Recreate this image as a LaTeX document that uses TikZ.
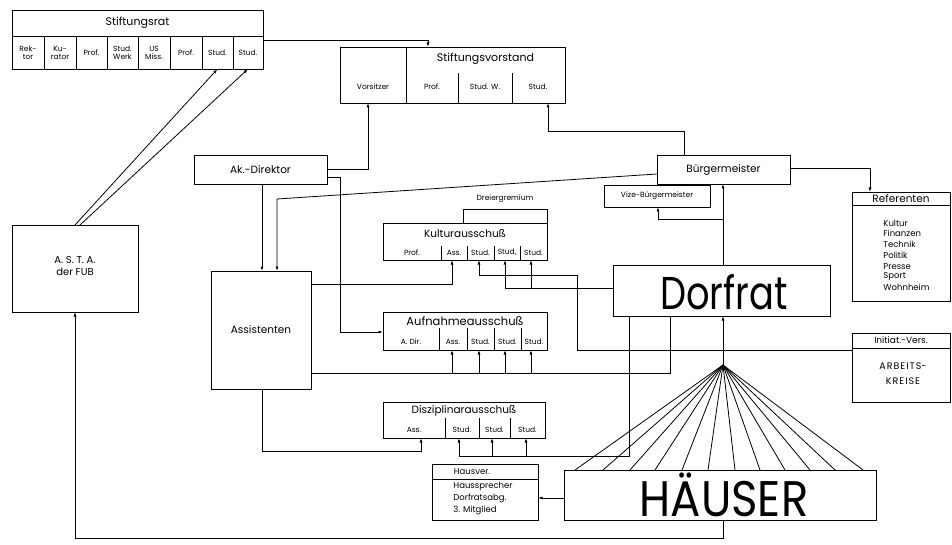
\documentclass[tikz,border=0pt]{standalone}
\usepackage{fontspec}
\usepackage{graphicx}
\setmainfont{Poppins}
\usetikzlibrary{arrows.meta,fit}
\begin{document}
\begin{tikzpicture}[x=1pt,y=-1pt, line width=0.8pt,
  >={Latex[length=4.5pt,width=3pt]},
  box/.style={draw, rectangle, inner sep=0pt, outer sep=0pt},
  tl/.style={inner sep=0pt, font=\fontsize{10.5}{12}\selectfont},
  ts/.style={inner sep=0pt, font=\fontsize{7.5}{8}\selectfont, align=center},
  tm/.style={inner sep=0pt, font=\fontsize{8.5}{10}\selectfont},
  li/.style={inner sep=0pt, anchor=west, font=\fontsize{8.5}{10}\selectfont}]
\useasboundingbox[fill=white] (0,0) rectangle (952,545);

% ---------- Stiftungsrat
\node[box, fit={(12,10) (263,69)}] (rat) {};
\draw (12,36) -- (263,36);
\foreach \x in {44,76,107,138,170,202,233} \draw (\x,36) -- (\x,69);
\node[tl, font=\fontsize{11}{12}\selectfont] (ratT) at (137.5,23) {Stiftungsrat};
\node[ts] (r1) at (28,52.5) {Rek-\\tor};
\node[ts] (r2) at (60,52.5) {Ku-\\rator};
\node[ts] (r3) at (91.5,52.5) {Prof.};
\node[ts] (r4) at (122.5,52.5) {Stud.\\Werk};
\node[ts] (r5) at (154,52.5) {US\\Miss.};
\node[ts] (r6) at (186,52.5) {Prof.};
\node[ts] (r7) at (217.5,52.5) {Stud.};
\node[ts] (r8) at (248,52.5) {Stud.};
\coordinate (r7b) at (217.5,69);
\coordinate (r8b) at (248,69);

% ---------- Stiftungsvorstand
\node[box, fit={(340,47) (565,103)}] (vor) {};
\draw (406,47) -- (406,103);
\draw (458,73) -- (458,103);
\draw (512,73) -- (512,103);
\node[tl, font=\fontsize{11}{12}\selectfont] (vorT) at (485.5,59) {Stiftungsvorstand};
\node[ts] (v1) at (373,87) {Vorsitzer};
\node[ts] (v2) at (432,87) {Prof.};
\node[ts] (v3) at (485,87) {Stud. W.};
\node[ts] (v4) at (538,87) {Stud.};

% ---------- Ak.-Direktor, Bürgermeister, Vize
\node[box, fit={(194,155) (327,184)}] (ak) {};
\node[tl] at (ak.center) {Ak.-Direktor};
\node[box, fit={(657,155) (790,184)}] (bm) {};
\node[tl] at (bm.center) {Bürgermeister};
\node[box, fit={(604,185) (710,207)}] (vize) {};
\node[tm, font=\fontsize{7.5}{8}\selectfont] at (vize.center) {Vize-Bürgermeister};

% ---------- Referenten
\node[box, fit={(852,192) (950,301)}] (ref) {};
\draw (852,205) -- (950,205);
\node[tl] at (901,198.5) {Referenten};
\foreach \t [count=\i from 0] in {Kultur,Finanzen,Technik,Politik,Presse,Sport,Wohnheim}
  \node[li] at (883,223+10.8*\i) {\t};

% ---------- Initiat.-Vers.
\node[box, fit={(852,333) (950,402)}] (ini) {};
\draw (852,348) -- (950,348);
\node[tm, font=\fontsize{9}{10}\selectfont] at (901,340.5) {Initiat.-Vers.};
\node[tm, font=\fontsize{9.5}{15}\selectfont, align=center] at (903,374)
  {A\kern1ptR\kern1ptB\kern1ptE\kern1ptI\kern1ptT\kern1ptS-\\K\kern1ptR\kern1ptE\kern1ptI\kern1ptS\kern1ptE};

% ---------- Dorfrat
\node[box, fit={(613,265) (830,316)}] (dorf) {};
\node[inner sep=0pt] at (724,292) {\fontsize{46}{46}\selectfont\scalebox{0.8}[1]{Dorfrat}};

% ---------- Ausschüsse
\node[box, fit={(383,223) (547,260)}] (kul) {};
\foreach \x in {441,467,494,520} \draw (\x,246) -- (\x,260);
\node[tl] at (465,234) {Kulturausschuß};
\node[ts] at (412,252.5) {Prof.};
\node[ts] at (454,252.5) {Ass.};
\node[ts] at (480.5,252.5) {Stud.};
\node[ts] at (507,252.5) {Stud,};
\node[ts] at (533.5,252.5) {Stud.};
\draw (463,223) -- (463,209) -- (547,209) -- (547,223);
\node[tm, font=\fontsize{7.5}{8}\selectfont] at (505,199) {Dreiergremium};

\node[box, fit={(383,312) (547,350)}] (auf) {};
\foreach \x in {439,467,494,521} \draw (\x,328) -- (\x,350);
\node[tl, font=\fontsize{11.5}{12}\selectfont] at (465,321) {Aufnahmeausschuß};
\node[ts] at (411,341.5) {A. Dir.};
\node[ts] at (453,341.5) {Ass.};
\node[ts] at (480.5,341.5) {Stud.};
\node[ts] at (507.5,341.5) {Stud.};
\node[ts] at (534,341.5) {Stud.};

\node[box, fit={(383,402) (545,438)}] (dis) {};
\foreach \x in {445,479,510} \draw (\x,418) -- (\x,438);
\node[tl] at (464,411) {Disziplinarausschuß};
\node[ts] at (414,430) {Ass.};
\node[ts] at (462,430) {Stud.};
\node[ts] at (494.5,430) {Stud.};
\node[ts] at (527.5,430) {Stud.};

% ---------- Assistenten, ASTA
\node[box, fit={(211,271) (311,389)}] (ass) {};
\node[tl] at (ass.center) {Assistenten};
\node[box, fit={(12,225) (138,312)}] (asta) {};
\node[tl, align=center, font=\fontsize{10}{12}\selectfont] at (75,266) {A. S. T. A.\\der FUB};

% ---------- Hausver., HÄUSER
\node[box, fit={(432,464) (538,520)}] (hv) {};
\draw (432,479) -- (538,479);
\node[tm] at (472,471.5) {Hausver.};
\node[li] at (453,486.5) {Haussprecher};
\node[li] at (453,498.5) {Dorfratsabg.};
\node[li] at (453,510.5) {3. Mitglied};
\node[box, fit={(564,470) (876,520)}] (hs) {};
\node[inner sep=0pt] at (724,495) {\fontsize{50}{50}\selectfont\scalebox{0.9}[1]{HÄUSER}};

% ---------- connectors
\coordinate (apex) at (723,365);
\foreach \x in {575,603,630,655,682,708,735,760,785,810,835,863}
  \draw (apex) -- (\x,470);
\draw[->] (apex) -- (dorf.south -| apex);

\draw[->] (rat.east |- 0,40) -- (428,40) -- (vor.north -| 428,0);
\draw[->] (asta.north -| 75,0) -- (r7b);
\draw[->] (asta.north -| 80,0) -- (r8b);
\draw[->] (hs.south -| 723,0) -- (723,538) -- (75,538) -- (asta.south -| 75,0);

\draw[->] (ak.east |- 0,169) -- (368,169) -- (vor.south -| 368,0);
\draw[->] (ak.east |- 0,177) -- (340,177) -- (340,332) -- (auf.west |- 0,332);
\draw[->] (ak.south -| 262,0) -- (ass.north -| 262,0);
\draw[->] (bm.west |- 0,174) -- (277,199) -- (ass.north -| 277,0);
\draw[->] (bm.north -| 684,0) -- (684,131) -- (548,131) -- (vor.south -| 548,0);
\draw[->] (bm.east |- 0,168) -- (870,168) -- (ref.north -| 870,0);
\draw[->] (dorf.north -| 723,0) -- (bm.south -| 723,0);
\draw[->] (723,219) -- (658,219) -- (vize.south -| 658,0);

% Kulturausschuss
\draw[->] (ass.east |- 0,284) -- (452,284) -- (kul.south -| 452,0);
\draw[->] (ini.west |- 0,350) -- (577,350) -- (577,275) -- (479,275) -- (kul.south -| 479,0);
\draw[->] (dorf.west |- 0,288) -- (505,288) -- (kul.south -| 505,0);
\draw[->] (531,288) -- (kul.south -| 531,0);

% Aufnahmeausschuss
\draw (ass.east |- 0,373) -- (452,373);
\draw[->] (dorf.south -| 670,0) -- (670,373) -- (452,373) -- (auf.south -| 452,0);
\draw[->] (479,373) -- (auf.south -| 479,0);
\draw[->] (505,373) -- (auf.south -| 505,0);
\draw[->] (531,373) -- (auf.south -| 531,0);

% Disziplinarausschuss
\draw[->] (ass.south -| 262,0) -- (262,451) -- (421,451) -- (dis.south -| 421,0);
\draw[->] (dorf.south -| 629,0) -- (629,456) -- (459,456) -- (dis.south -| 459,0);
\draw[->] (492,456) -- (dis.south -| 492,0);
\draw[->] (526,456) -- (dis.south -| 526,0);

\draw[->] (hs.west |- 0,498) -- (hv.east |- 0,498);
\end{tikzpicture}
\end{document}
